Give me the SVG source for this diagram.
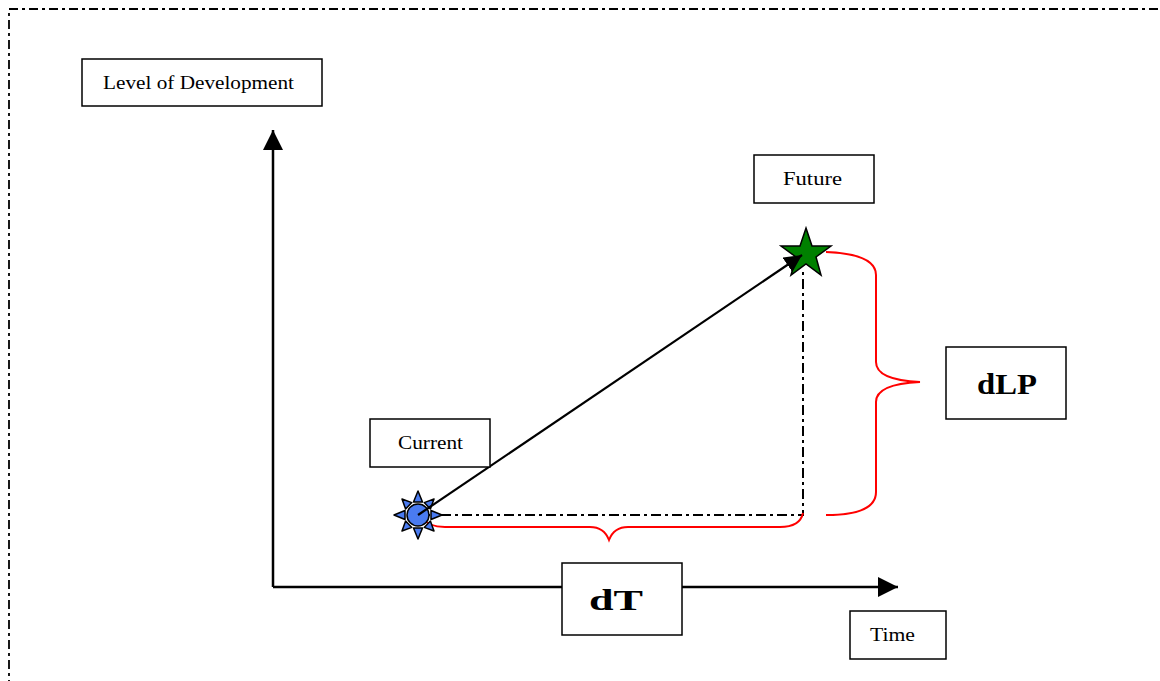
<svg xmlns="http://www.w3.org/2000/svg" width="1160" height="681" viewBox="0 0 1160 681">
<style>
.box{fill:#fff;stroke:#000;stroke-width:1.5}
.lbl{font-family:"Liberation Serif",serif;font-size:19px;fill:#000;text-anchor:middle}
.big{font-family:"Liberation Serif",serif;font-size:30px;font-weight:bold;fill:#000;text-anchor:middle}
.red{fill:none;stroke:#ff0000;stroke-width:2}
.dd{fill:none;stroke:#000;stroke-width:2;stroke-dasharray:10,4,3,4}
.ray{fill:#4a7bf0;stroke:#000;stroke-width:1.5;stroke-linejoin:round}
</style>
<defs>
<marker id="ax" viewBox="0 0 10 10" refX="10" refY="5" markerWidth="8" markerHeight="8" orient="auto">
<path d="M0,0 L10,5 L0,10 Z" fill="#000"/>
</marker>
</defs>
<rect x="0" y="0" width="1160" height="681" fill="#fff"/>
<rect x="9" y="9" width="1200" height="720" fill="none" stroke="#000" stroke-width="1.8" stroke-dasharray="9,4,3,4"/>
<g id="connectors">
<line x1="273" y1="587" x2="273" y2="130" stroke="#000" stroke-width="2.5" marker-end="url(#ax)"/>
<line x1="273" y1="587" x2="898" y2="587" stroke="#000" stroke-width="2.5" marker-end="url(#ax)"/>
<path class="dd" d="M420,515 H803 V268"/>
<path class="red" d="M421,517 Q428,527 445,527 H590 Q604,527 609,540 Q614,527 628,527 H780 Q800,527 803,513"/>
<path class="red" d="M826,252 Q876,254 876,275 V362 Q876,380 920,382 Q876,384 876,402 V492 Q876,515 826,515"/>
</g>
<g id="sun">
<polygon class="ray" points="431,510.5 442,515 431,519.5"/>
<polygon class="ray" points="413.5,528 418,539 422.5,528"/>
<polygon class="ray" points="405,510.5 394,515 405,519.5"/>
<polygon class="ray" points="413.5,502 418,491 422.5,502"/>
<polygon class="ray" points="430.4,521 434,531 424.2,527.4"/>
<polygon class="ray" points="411.8,527.4 402,531 405.6,521"/>
<polygon class="ray" points="411.8,502.6 402,499 405.6,509"/>
<polygon class="ray" points="430.4,509 434,499 424.2,502.6"/>
<circle cx="418" cy="515" r="11" fill="#4a7bf0" stroke="#000" stroke-width="1.5"/>
</g>
<g id="star">
<polygon points="806,228 812,246 831,246 816,257 821,275 806,264 791,275 796,257 781,246 800,246" fill="#008000" stroke="#000" stroke-width="1.5"/>
</g>
<g id="arrow">
<line x1="418" y1="515" x2="802" y2="255" stroke="#000" stroke-width="2.2" marker-end="url(#ax)"/>
</g>
<g id="level"><rect class="box" x="82" y="59" width="240" height="47"/><text class="lbl" x="198.5" y="89" textLength="191" lengthAdjust="spacingAndGlyphs">Level of Development</text></g>
<g id="future"><rect class="box" x="754" y="155" width="120" height="48"/><text class="lbl" x="812.5" y="185" textLength="59" lengthAdjust="spacingAndGlyphs">Future</text></g>
<g id="current"><rect class="box" x="370" y="419" width="120" height="48"/><text class="lbl" x="430.5" y="449" textLength="65" lengthAdjust="spacingAndGlyphs">Current</text></g>
<g id="dlp"><rect class="box" x="946" y="347" width="120" height="72"/><text class="big" x="1007" y="394" textLength="60" lengthAdjust="spacingAndGlyphs">dLP</text></g>
<g id="dt"><rect class="box" x="562" y="563" width="120" height="72"/><text class="big" x="616" y="610" textLength="54" lengthAdjust="spacingAndGlyphs">dT</text></g>
<g id="time"><rect class="box" x="850" y="611" width="96" height="48"/><text class="lbl" x="892.5" y="641" textLength="45" lengthAdjust="spacingAndGlyphs">Time</text></g>
</svg>
